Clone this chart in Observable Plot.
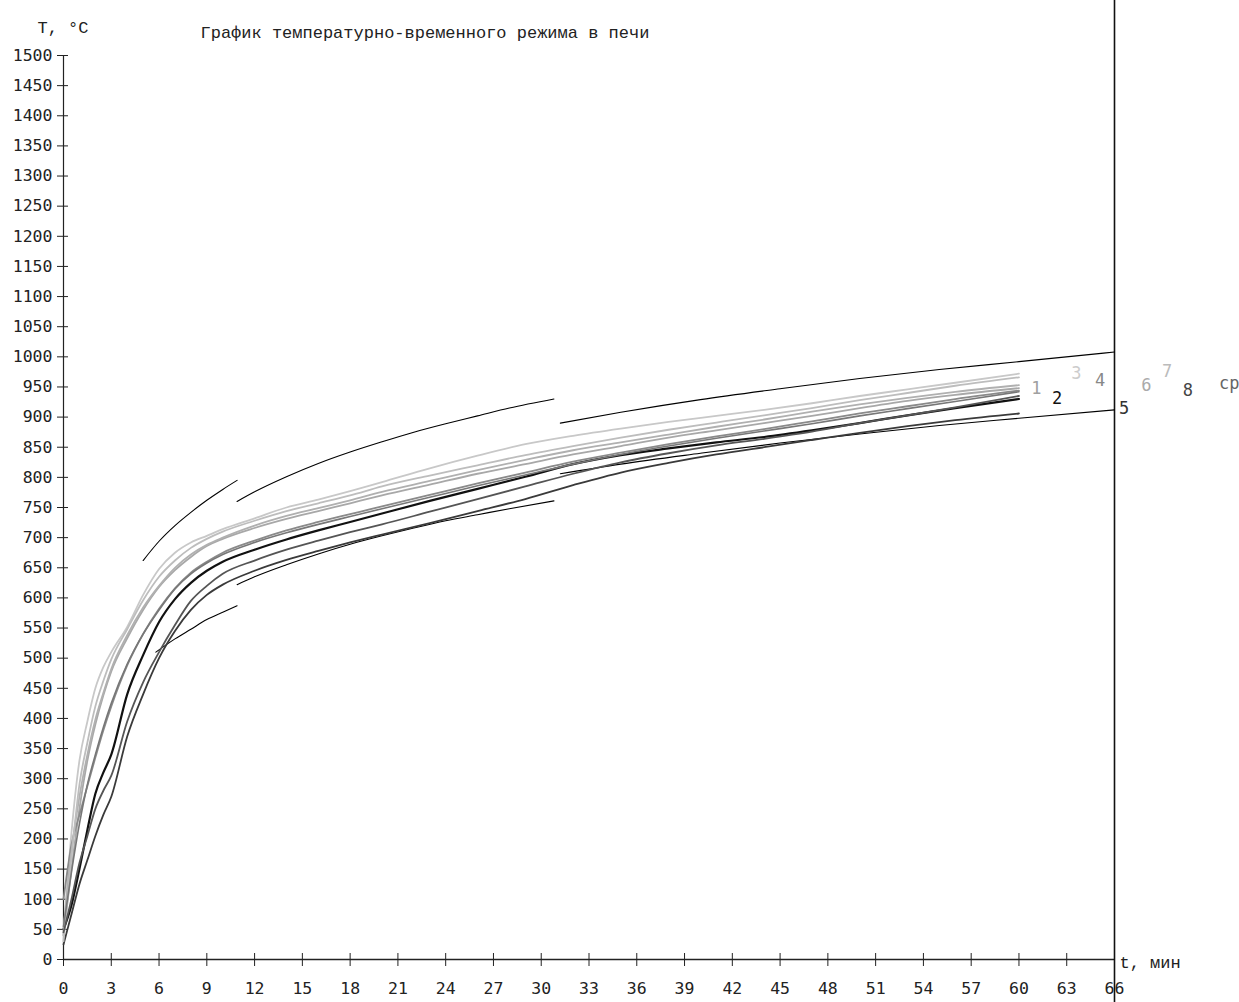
<!DOCTYPE html>
<html><head><meta charset="utf-8">
<script src="https://cdn.jsdelivr.net/npm/d3@7"></script>
<script src="https://cdn.jsdelivr.net/npm/@observablehq/plot@0.6"></script>
<style>body{margin:0;background:#fff}</style>
</head><body><div id="chart"></div>
<script>
// time grid (min)
const times = [0, 0.5, 1, 1.5, 2, 2.5, 3, 4, 5, 6, 7, 8, 9, 10, 12, 14, 16, 18, 20, 23, 26, 29, 32, 35, 38, 41, 44, 47, 50, 53, 56, 60];
// series values (°C)
const s1 = [40, 150, 250, 330, 390, 438, 478, 533, 580, 618, 646, 668, 686, 698, 716, 731, 744, 757, 770, 788, 806, 822, 838, 852, 866, 878, 890, 902, 915, 927, 937, 948];
const s2 = [50, 90, 150, 215, 275, 310, 340, 440, 505, 560, 598, 625, 645, 660, 680, 697, 712, 726, 740, 761, 781, 801, 822, 837, 848, 858, 867, 878, 890, 903, 915, 930];
const s3 = [40, 210, 330, 395, 450, 485, 510, 552, 605, 648, 675, 692, 703, 714, 732, 750, 763, 777, 792, 815, 836, 855, 869, 881, 892, 902, 912, 923, 935, 946, 957, 972];
const s4 = [100, 190, 240, 288, 335, 380, 420, 488, 540, 582, 616, 642, 660, 675, 695, 712, 726, 739, 752, 771, 790, 808, 826, 841, 855, 868, 880, 893, 906, 918, 930, 944];
const s5 = [25, 75, 125, 165, 205, 240, 270, 370, 440, 500, 545, 580, 605, 622, 645, 663, 678, 692, 705, 724, 744, 764, 787, 808, 824, 838, 850, 862, 874, 885, 895, 906];
const s6 = [50, 180, 270, 340, 398, 442, 482, 538, 584, 620, 650, 672, 688, 700, 720, 736, 749, 762, 776, 794, 812, 829, 845, 858, 871, 884, 896, 909, 921, 932, 942, 953];
const s7 = [30, 170, 290, 360, 420, 462, 498, 548, 596, 635, 662, 683, 698, 710, 728, 744, 757, 770, 785, 803, 820, 837, 852, 866, 879, 891, 903, 915, 928, 940, 952, 966];
const s8 = [45, 100, 160, 205, 250, 280, 305, 395, 460, 510, 555, 595, 620, 640, 662, 680, 695, 709, 722, 743, 764, 785, 806, 825, 840, 853, 864, 876, 890, 903, 916, 935];
const sAvg = [55, 145, 225, 290, 340, 385, 425, 490, 540, 580, 615, 640, 658, 672, 692, 708, 722, 735, 748, 767, 786, 804, 822, 838, 852, 865, 877, 889, 902, 914, 926, 942];

const seriesNames = ["1", "2", "3", "4", "5", "6", "7", "8", "ср"];
const seriesValues = [s1, s2, s3, s4, s5, s6, s7, s8, sAvg];
const seriesColors = ["#a8a8a8", "#111111", "#c8c8c8", "#8a8a8a", "#3a3a3a", "#b0b0b0", "#bdbdbd", "#555555", "#777777"];
const seriesWidths = [1.8, 2.2, 1.8, 1.8, 1.8, 1.8, 1.8, 1.8, 1.6];
const labelColors = ["#a0a0a0", "#111111", "#cccccc", "#888888", "#333333", "#aaaaaa", "#bbbbbb", "#444444", "#666666"];
// label positions (t, T)
const labelX = [61.1, 62.4, 63.6, 65.1, 66.6, 68.0, 69.3, 70.6, 73.2];
const labelY = [947, 930, 973, 960, 915, 952, 975, 944, 955];

// tolerance bounds (piecewise segments)
const upper1T = [5, 6, 7, 8, 9, 10, 10.9];
const upper1 = [662, 694, 720, 742, 762, 780, 795];
const lower1T = [5.8, 7, 8, 9, 10, 10.9];
const lower1 = [510, 532, 548, 564, 576, 587];
const upper2T = [10.9, 12, 14, 16, 18, 20, 22, 24, 26, 28, 30.8];
const upper2 = [760, 776, 801, 823, 842, 859, 875, 889, 902, 915, 930];
const lower2 = [622, 635, 655, 673, 689, 703, 716, 728, 738, 748, 761];
const upper3T = [31.2, 35, 40, 45, 50, 55, 60, 66];
const upper3 = [890, 908, 929, 947, 964, 979, 992, 1008];
const lower3 = [806, 822, 840, 857, 872, 886, 898, 912];

const xTicks = [0, 3, 6, 9, 12, 15, 18, 21, 24, 27, 30, 33, 36, 39, 42, 45, 48, 51, 54, 57, 60, 63, 66];
const yTicks = [0, 50, 100, 150, 200, 250, 300, 350, 400, 450, 500, 550, 600, 650, 700, 750, 800, 850, 900, 950, 1000, 1050, 1100, 1150, 1200, 1250, 1300, 1350, 1400, 1450, 1500];

const title = "График температурно-временного режима в печи";
const yLabel = "T, °C";
const xLabel = "t, мин";

const seriesMarks = seriesNames.map((name, i) =>
  Plot.line(times.map((t, j) => ({t, T: seriesValues[i][j]})), {
    x: "t", y: "T", stroke: seriesColors[i], strokeWidth: seriesWidths[i], curve: "monotone-x"
  })
);
const seg = (ts, vs) => ts.map((t, j) => ({t, T: vs[j]}));
const boundMarks = [
  [upper1T, upper1], [lower1T, lower1], [upper2T, upper2], [upper2T, lower2], [upper3T, upper3], [upper3T, lower3]
].map(([ts, vs]) => Plot.line(seg(ts, vs), {x: "t", y: "T", stroke: "#000", strokeWidth: 1.1, curve: "monotone-x"}));

const labels = seriesNames.map((n, i) => ({n, t: labelX[i], T: labelY[i], c: labelColors[i]}));
const mono = "'Liberation Mono', monospace";

const chart = Plot.plot({
  width: 1239,
  height: 1002,
  marginTop: 55,
  marginBottom: 43,
  marginLeft: 63,
  marginRight: 125,
  style: {fontFamily: "'DejaVu Sans Mono', monospace", fontSize: "16.5px", background: "#fff", color: "#222"},
  x: {domain: [0, 66]},
  y: {domain: [0, 1500]},
  marks: [
    Plot.axisY({ticks: yTicks, tickSize: 11, dx: 5, tickFormat: () => "", label: null, stroke: "#222"}),
    Plot.axisY({ticks: yTicks, tickSize: 0, tickPadding: 11, tickFormat: d => String(d), label: null, fill: "#222"}),
    Plot.axisX({ticks: xTicks, tickSize: 13, dy: -6, tickFormat: () => "", label: null, stroke: "#222"}),
    Plot.axisX({ticks: xTicks, tickSize: 0, tickPadding: 23, tickFormat: d => String(d), label: null, fill: "#222"}),
    Plot.ruleX([0], {stroke: "#222", strokeWidth: 1.2}),
    Plot.ruleY([0], {stroke: "#222", strokeWidth: 1.4}),
    Plot.ruleX([66], {stroke: "#111", strokeWidth: 1.6, insetTop: -55, insetBottom: -43}),
    ...boundMarks,
    ...seriesMarks,
    Plot.text(labels, {x: "t", y: "T", text: "n", fill: "c", fontSize: 17, textAnchor: "middle"}),
    Plot.text([title], {frameAnchor: "top-left", dx: 137, dy: -30, textAnchor: "start", fontSize: 17, fill: "#222", fontFamily: mono}),
    Plot.text([yLabel], {frameAnchor: "top-left", dx: -26, dy: -35, textAnchor: "start", fontSize: 17, fill: "#222", fontFamily: mono}),
    Plot.text([xLabel], {frameAnchor: "bottom-right", dx: 5, dy: 8, textAnchor: "start", fontSize: 17, fill: "#222", fontFamily: mono})
  ]
});
document.getElementById("chart").append(chart);
</script>
</body></html>
